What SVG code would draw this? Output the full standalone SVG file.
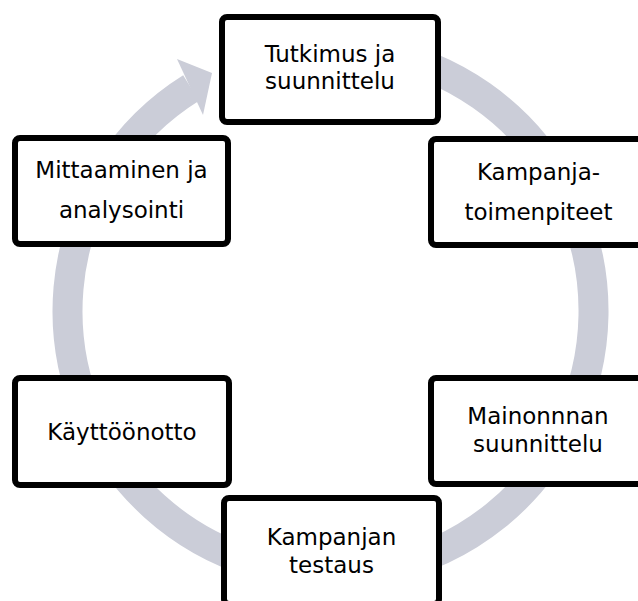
<svg xmlns="http://www.w3.org/2000/svg" width="638" height="601" viewBox="0 0 638 601">
<style>
.box{fill:#ffffff;stroke:#000000;stroke-width:6}
.lbl{font-family:"DejaVu Sans",Verdana,sans-serif;font-size:23px;fill:#000000;text-anchor:middle}
.ring{fill:none;stroke:#cbcdd8;stroke-width:30}
.head{fill:#cbcdd8}
</style>
<g id="connectors">
<path class="ring" d="M 376.2 52 A 263 263 0 1 1 191.1 88"/>
<polygon class="head" points="177,59 212,73 203,115"/>
</g>
<g id="n1">
<rect class="box" x="222" y="17" width="216" height="105" rx="5"/>
<text class="lbl" x="330" y="62">Tutkimus ja</text>
<text class="lbl" x="330" y="89">suunnittelu</text>
</g>
<g id="n2">
<rect class="box" x="431" y="139" width="215" height="106" rx="5"/>
<text class="lbl" x="538.5" y="180">Kampanja-</text>
<text class="lbl" x="538.5" y="220">toimenpiteet</text>
</g>
<g id="n3">
<rect class="box" x="431" y="378" width="215" height="106" rx="5"/>
<text class="lbl" x="538" y="424">Mainonnnan</text>
<text class="lbl" x="538" y="452">suunnittelu</text>
</g>
<g id="n4">
<rect class="box" x="224" y="498" width="215" height="106" rx="5"/>
<text class="lbl" x="331.5" y="545">Kampanjan</text>
<text class="lbl" x="331.5" y="573">testaus</text>
</g>
<g id="n5">
<rect class="box" x="15" y="378" width="214" height="107" rx="5"/>
<text class="lbl" x="122" y="440">Käyttöönotto</text>
</g>
<g id="n6">
<rect class="box" x="15" y="138" width="213" height="106" rx="5"/>
<text class="lbl" x="121.5" y="178">Mittaaminen ja</text>
<text class="lbl" x="121.5" y="218">analysointi</text>
</g>
</svg>
